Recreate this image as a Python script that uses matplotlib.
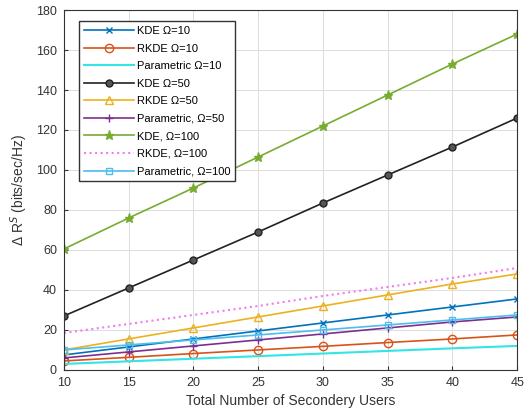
import matplotlib.pyplot as plt
import numpy as np

plt.rcParams["font.family"] = ["Liberation Sans", "DejaVu Sans"]

users = [10, 15, 20, 25, 30, 35, 40, 45]

kde_10 = [7.5, 11.5, 15.5, 19.5, 23.5, 27.5, 31.5, 35.5]
rkde_10 = [4.5, 6.3, 8.2, 10.0, 11.8, 13.7, 15.5, 17.5]
param_10 = [3.0, 4.3, 5.6, 6.9, 8.2, 9.5, 10.8, 12.0]
kde_50 = [27.0, 41.0, 55.0, 69.0, 83.5, 97.5, 111.5, 126.0]
rkde_50 = [10.0, 15.5, 21.0, 26.5, 32.0, 37.5, 43.0, 48.0]
param_50 = [6.0, 9.0, 12.0, 15.0, 18.0, 21.0, 24.0, 26.5]
kde_100 = [60.5, 76.0, 91.0, 106.5, 122.0, 137.5, 153.0, 168.0]
rkde_100 = [18.5, 23.0, 27.5, 32.0, 37.0, 41.5, 46.0, 51.0]
param_100 = [10.0, 12.5, 15.0, 17.5, 20.0, 22.5, 25.0, 27.5]

fig = plt.figure(figsize=(5.24, 4.18), dpi=100)
ax = fig.add_axes([0.122, 0.115, 0.865, 0.861])

ax.plot(users, kde_10, color="#0072BD", marker="x", markersize=4.5, lw=1.2, label="KDE Ω=10")
ax.plot(users, rkde_10, color="#D95319", marker="o", markersize=6, mfc="none", lw=1.2, label="RKDE Ω=10")
ax.plot(users, param_10, color="#33E5E5", lw=1.5, label="Parametric Ω=10")
ax.plot(users, kde_50, color="#222222", marker="o", markersize=5, mfc="#555555", lw=1.2, label="KDE Ω=50")
ax.plot(users, rkde_50, color="#EDB120", marker="^", markersize=6, mfc="none", lw=1.2, label="RKDE Ω=50")
ax.plot(users, param_50, color="#7E2F8E", marker="+", markersize=6, lw=1.2, label="Parametric, Ω=50")
ax.plot(users, kde_100, color="#77AC30", marker="*", markersize=6.5, lw=1.2, label="KDE, Ω=100")
ax.plot(users, rkde_100, color="#F07CF0", ls=":", lw=1.5, label="RKDE, Ω=100")
ax.plot(users, param_100, color="#4DBEEE", marker="s", markersize=5, mfc="none", lw=1.2, label="Parametric, Ω=100")

ax.set_xlim(10, 45)
ax.set_ylim(0, 180)
ax.set_xticks(users)
ax.set_yticks(np.arange(0, 181, 20))
ax.tick_params(labelsize=9, direction="in", length=3, pad=5, colors="#333333")
ax.grid(True, color="#dddddd", linewidth=0.7)
ax.set_xlabel("Total Number of Secondery Users", fontsize=10, color="#333333")
ax.set_ylabel("Δ R$^{S}$ (bits/sec/Hz)", fontsize=10, color="#333333")
for spine in ax.spines.values():
    spine.set_color("#333333")

leg = ax.legend(loc="upper left", bbox_to_anchor=(0.02, 0.985), fontsize=8,
                fancybox=False, framealpha=1, edgecolor="#333333",
                handlelength=4.5, labelspacing=0.68, borderpad=0.45, handletextpad=0.3)

fig.savefig("out.png", dpi=100)
